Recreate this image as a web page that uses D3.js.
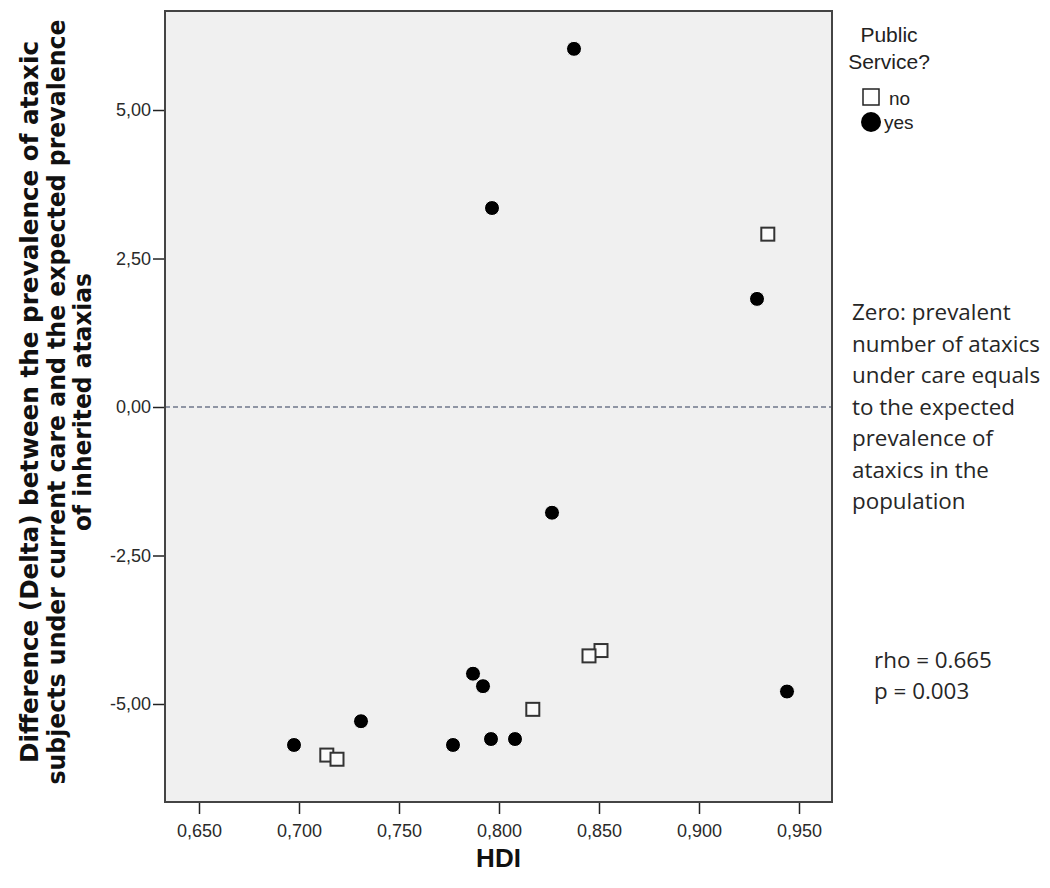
<!DOCTYPE html>
<html>
<head>
    <meta charset="utf-8">
    <title>HDI vs Delta</title>
    <script src="https://cdn.jsdelivr.net/npm/d3@7/dist/d3.min.js"></script>
    <style>
        body { margin: 0; background: #fff; }
    </style>
</head>
<body>
    <svg width="1050" height="888" id="mainsvg"></svg>
    <script>
        // data
        const yesHDI = [0.8375, 0.7965, 0.929, 0.8265, 0.787, 0.792, 0.6975, 0.731, 0.777, 0.796, 0.808, 0.944];
        const yesDelta = [6.03, 3.35, 1.82, -1.78, -4.49, -4.70, -5.69, -5.29, -5.69, -5.59, -5.59, -4.79];
        const noHDI = [0.9344, 0.851, 0.845, 0.8169, 0.7139, 0.719];
        const noDelta = [2.91, -4.10, -4.19, -5.09, -5.86, -5.93];
        const xTicks = [0.65, 0.70, 0.75, 0.80, 0.85, 0.90, 0.95];
        const yTicks = [5, 2.5, 0, -2.5, -5];
        const yTitle = ['Difference (Delta) between the prevalence of ataxic',
            'subjects under current care and the expected prevalence',
            'of inherited ataxias'];
        const noteLines = ['Zero: prevalent', 'number of ataxics', 'under care equals',
            'to the expected', 'prevalence of', 'ataxics in the', 'population'];
        const statLines = ['rho = 0.665', 'p = 0.003'];

        const svg = d3.select('svg');
        const pLeft = 165, pRight = 832, pTop = 11, pBottom = 802;

        const x = d3.scaleLinear().domain([0.633, 0.9665]).range([pLeft, pRight]);
        const y = d3.scaleLinear().domain([-6.65, 6.667]).range([pBottom, pTop]);

        // SPSS style: decimal comma, plain hyphen for minus
        const loc = d3.formatLocale({ decimal: ',', thousands: '.', grouping: [3], currency: ['', ''], minus: '-' });
        const fx = loc.format('.3f');
        const fy = loc.format('.2f');

        // plot area
        svg.append('rect')
            .attr('x', pLeft).attr('y', pTop)
            .attr('width', pRight - pLeft).attr('height', pBottom - pTop)
            .attr('fill', '#f0f0f0');

        // zero line
        svg.append('line')
            .attr('x1', pLeft).attr('x2', pRight)
            .attr('y1', y(0)).attr('y2', y(0))
            .attr('stroke', '#2e3a58').attr('stroke-width', 1)
            .attr('stroke-dasharray', '5,3');

        // axes
        const xAxis = svg.append('g')
            .attr('transform', `translate(0, ${pBottom})`)
            .call(d3.axisBottom(x).tickValues(xTicks).tickFormat(fx).tickSize(12).tickPadding(10));
        const yAxis = svg.append('g')
            .attr('transform', `translate(${pLeft}, 0)`)
            .call(d3.axisLeft(y).tickValues(yTicks).tickFormat(fy).tickSize(12).tickPadding(2));
        [xAxis, yAxis].forEach(a => {
            a.select('.domain').remove();
            a.selectAll('.tick line').attr('stroke', '#222').attr('stroke-width', 1.5);
            a.selectAll('.tick text')
                .attr('fill', '#2a2a2a')
                .style('font-family', 'Liberation Sans, Arial, sans-serif')
                .style('font-size', '18px');
        });

        // frame
        svg.append('rect')
            .attr('x', pLeft).attr('y', pTop)
            .attr('width', pRight - pLeft).attr('height', pBottom - pTop)
            .attr('fill', 'none').attr('stroke', '#444').attr('stroke-width', 2);

        // points
        const sq = 13;
        svg.append('g').selectAll('rect')
            .data(d3.range(noHDI.length))
            .enter().append('rect')
            .attr('x', i => x(noHDI[i]) - sq / 2)
            .attr('y', i => y(noDelta[i]) - sq / 2)
            .attr('width', sq).attr('height', sq)
            .attr('fill', '#fafafa').attr('stroke', '#333').attr('stroke-width', 2);

        svg.append('g').selectAll('circle')
            .data(d3.range(yesHDI.length))
            .enter().append('circle')
            .attr('cx', i => x(yesHDI[i]))
            .attr('cy', i => y(yesDelta[i]))
            .attr('r', 7.5)
            .attr('fill', '#000').attr('stroke', '#fff').attr('stroke-width', 1);

        // x title
        svg.append('text')
            .attr('x', (pLeft + pRight) / 2).attr('y', 867)
            .attr('text-anchor', 'middle')
            .style('font-family', 'Liberation Sans, Arial, sans-serif')
            .style('font-size', '26px').style('font-weight', 'bold')
            .attr('fill', '#111')
            .text('HDI');

        // y title (3 rotated lines)
        const titleLen = [722, 765, 258];
        const titleX = [29, 56, 82];
        yTitle.forEach((t, i) => {
            svg.append('text')
                .attr('transform', `translate(${titleX[i] + 9}, 402) rotate(-90)`)
                .attr('text-anchor', 'middle')
                .attr('textLength', titleLen[i])
                .attr('lengthAdjust', 'spacingAndGlyphs')
                .style('font-family', 'Liberation Sans Narrow, DejaVu Sans Condensed, sans-serif')
                .style('font-size', '25px').style('font-weight', 'bold')
                .attr('fill', '#111')
                .text(t);
        });

        // legend
        const lf = 'Liberation Sans, Arial, sans-serif';
        svg.append('text').attr('x', 889).attr('y', 42).attr('text-anchor', 'middle')
            .style('font-family', lf).style('font-size', '21px').attr('fill', '#222').text('Public');
        svg.append('text').attr('x', 889).attr('y', 69).attr('text-anchor', 'middle')
            .style('font-family', lf).style('font-size', '21px').attr('fill', '#222').text('Service?');
        svg.append('rect').attr('x', 863).attr('y', 89).attr('width', 16).attr('height', 16)
            .attr('fill', '#fff').attr('stroke', '#222').attr('stroke-width', 1.5);
        svg.append('text').attr('x', 889).attr('y', 105)
            .style('font-family', lf).style('font-size', '19px').attr('fill', '#222').text('no');
        svg.append('circle').attr('cx', 871).attr('cy', 122).attr('r', 10).attr('fill', '#000');
        svg.append('text').attr('x', 884).attr('y', 129)
            .style('font-family', lf).style('font-size', '19px').attr('fill', '#222').text('yes');

        // annotations
        const nf = 'Open Sans, Noto Sans, sans-serif';
        const probe = svg.append('text').style('font-family', nf).style('font-size', '20px').text(noteLines[1]);
        const noteSize = 20 * 188 / probe.node().getComputedTextLength();
        probe.remove();
        svg.append('g').selectAll('text')
            .data(noteLines)
            .enter().append('text')
            .attr('x', 852)
            .attr('y', (d, i) => 320 + i * 31.5)
            .style('font-family', nf).style('font-size', noteSize + 'px')
            .attr('fill', '#262626')
            .text(d => d);
        svg.append('g').selectAll('text')
            .data(statLines)
            .enter().append('text')
            .attr('x', 874)
            .attr('y', (d, i) => 668 + i * 31)
            .style('font-family', nf).style('font-size', noteSize + 'px')
            .attr('fill', '#262626')
            .text(d => d);
    </script>
</body>
</html>
